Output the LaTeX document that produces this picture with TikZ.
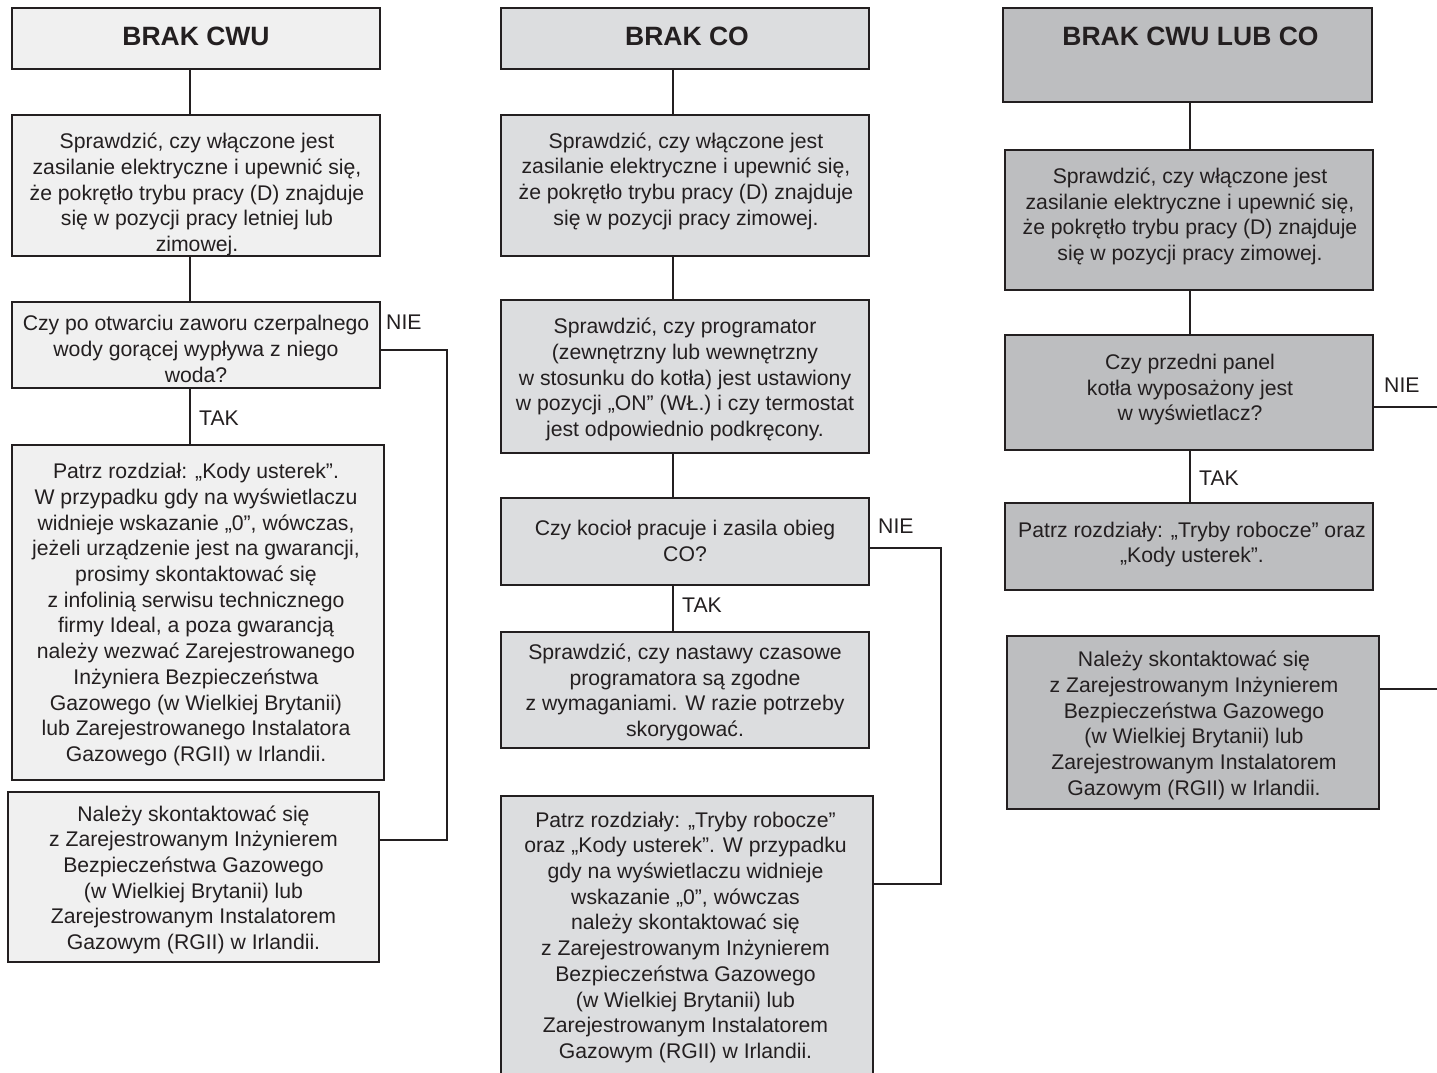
\documentclass[tikz,border=0pt]{standalone}
\usepackage{fontspec}
\setmainfont{Liberation Sans}
\usetikzlibrary{calc}
\definecolor{ink}{HTML}{231F20}
\definecolor{fillA}{HTML}{F0F0F0}
\definecolor{fillB}{HTML}{DCDDDF}
\definecolor{fillC}{HTML}{BDBEC0}
\tikzset{
  box/.style={draw=ink, line width=2.8pt, rectangle, inner sep=0pt},
  txt/.style={inner sep=0pt, align=center, text=ink, font=\fontsize{21.2}{25.7}\selectfont},
  titletext/.style={text=ink, inner sep=0pt, font=\fontsize{26.5}{30}\selectfont\bfseries},
  lbl/.style={text=ink, inner sep=0pt, anchor=west, font=\fontsize{21.2}{24}\selectfont},
  conn/.style={draw=ink, line width=2.8pt, line join=miter}
}
\begin{document}
\begin{tikzpicture}[x=1pt,y=-1pt]
\useasboundingbox[fill=white] (0,0) rectangle (1437,1072);
\clip (0,0) rectangle (1437,1072);

% ---------- column 1 ----------
\node[box, fill=fillA, minimum width=368pt, minimum height=61pt] (t1) at (196,38.5) {};
\node[titletext] (t1txt) at (196,36) {BRAK CWU};
\node[box, fill=fillA, minimum width=368pt, minimum height=141pt] (a2) at (196,185.5) {};
\node[txt] (a2t) at (197,194.5)
  {Sprawdzić, czy włączone jest\\zasilanie elektryczne i upewnić się,\\że pokrętło trybu pracy (D) znajduje\\się w pozycji pracy letniej lub\\zimowej.};
\node[box, fill=fillA, minimum width=368pt, minimum height=86pt] (a3) at (196,345) {};
\node[txt] (a3t) at (196,349)
  {Czy po otwarciu zaworu czerpalnego\\wody gorącej wypływa z niego\\woda?};
\node[box, fill=fillA, minimum width=372pt, minimum height=335pt] (a4) at (198,612.5) {};
\node[txt] (a4t) at (196,614.6)
  {Patrz rozdział: „Kody usterek”.\\W przypadku gdy na wyświetlaczu\\widnieje wskazanie „0”, wówczas,\\jeżeli urządzenie jest na gwarancji,\\prosimy skontaktować się\\z infolinią serwisu technicznego\\firmy Ideal, a poza gwarancją\\należy wezwać Zarejestrowanego\\Inżyniera Bezpieczeństwa\\Gazowego (w Wielkiej Brytanii)\\lub Zarejestrowanego Instalatora\\Gazowego (RGII) w Irlandii.};
\node[box, fill=fillA, minimum width=371pt, minimum height=170pt] (a5) at (193.5,877) {};
\node[txt] (a5t) at (193.5,879.8)
  {Należy skontaktować się\\z Zarejestrowanym Inżynierem\\Bezpieczeństwa Gazowego\\(w Wielkiej Brytanii) lub\\Zarejestrowanym Instalatorem\\Gazowym (RGII) w Irlandii.};
\coordinate (x1) at (190,0);
\coordinate (n1) at (447,350);
\coordinate (k1) at (447,840);
\draw[conn] (t1.south -| x1) -- (a2.north -| x1);
\draw[conn] (a2.south -| x1) -- (a3.north -| x1);
\draw[conn] (a3.south -| x1) -- (a4.north -| x1);
\draw[conn] (a3.east |- n1) -- (n1) -- (k1) -- (a5.east |- k1);
\node[lbl] (nie1) at (386,322) {NIE};
\node[lbl] (tak1) at (199,418) {TAK};

% ---------- column 2 ----------
\node[box, fill=fillB, minimum width=368pt, minimum height=61pt] (t2) at (685,38.5) {};
\node[titletext] (t2txt) at (687,36) {BRAK CO};
\node[box, fill=fillB, minimum width=368pt, minimum height=141pt] (b2) at (685,185.5) {};
\node[txt] (b2t) at (686,181.2)
  {Sprawdzić, czy włączone jest\\zasilanie elektryczne i upewnić się,\\że pokrętło trybu pracy (D) znajduje\\się w pozycji pracy zimowej.};
\node[box, fill=fillB, minimum width=368pt, minimum height=153pt] (b3) at (685,376.5) {};
\node[txt] (b3t) at (685,379.5)
  {Sprawdzić, czy programator\\(zewnętrzny lub wewnętrzny\\w stosunku do kotła) jest ustawiony\\w pozycji „ON” (WŁ.) i czy termostat\\jest odpowiednio podkręcony.};
\node[box, fill=fillB, minimum width=368pt, minimum height=87pt] (b4) at (685,541.5) {};
\node[txt] (b4t) at (685,541.1)
  {Czy kocioł pracuje i zasila obieg\\CO?};
\node[box, fill=fillB, minimum width=368pt, minimum height=116pt] (b5) at (685,690) {};
\node[txt] (b5t) at (685,692.3)
  {Sprawdzić, czy nastawy czasowe\\programatora są zgodne\\z wymaganiami. W razie potrzeby\\skorygować.};
\node[box, fill=fillB, minimum width=372pt, minimum height=279pt] (b6) at (687,935.5) {};
\node[txt] (b6t) at (685.5,937.3)
  {Patrz rozdziały: „Tryby robocze”\\oraz „Kody usterek”. W przypadku\\gdy na wyświetlaczu widnieje\\wskazanie „0”, wówczas\\należy skontaktować się\\z Zarejestrowanym Inżynierem\\Bezpieczeństwa Gazowego\\(w Wielkiej Brytanii) lub\\Zarejestrowanym Instalatorem\\Gazowym (RGII) w Irlandii.};
\coordinate (x2) at (673,0);
\coordinate (n2) at (941,548);
\coordinate (k2) at (941,884);
\draw[conn] (t2.south -| x2) -- (b2.north -| x2);
\draw[conn] (b2.south -| x2) -- (b3.north -| x2);
\draw[conn] (b3.south -| x2) -- (b4.north -| x2);
\draw[conn] (b4.south -| x2) -- (b5.north -| x2);
\draw[conn] (b4.east |- n2) -- (n2) -- (k2) -- (b6.east |- k2);
\node[lbl] (nie2) at (878,526) {NIE};
\node[lbl] (tak2) at (682,605) {TAK};

% ---------- column 3 ----------
\node[box, fill=fillC, minimum width=369pt, minimum height=94pt] (t3) at (1187.5,55) {};
\node[titletext] (t3txt) at (1190.5,36) {BRAK CWU LUB CO};
\node[box, fill=fillC, minimum width=368pt, minimum height=140pt] (c2) at (1189,220) {};
\node[txt] (c2t) at (1190,216.5)
  {Sprawdzić, czy włączone jest\\zasilanie elektryczne i upewnić się,\\że pokrętło trybu pracy (D) znajduje\\się w pozycji pracy zimowej.};
\node[box, fill=fillC, minimum width=368pt, minimum height=115pt] (c3) at (1189,392.5) {};
\node[txt] (c3t) at (1190,389.8)
  {Czy przedni panel\\kotła wyposażony jest\\w wyświetlacz?};
\node[box, fill=fillC, minimum width=368pt, minimum height=87pt] (c4) at (1189,546.5) {};
\node[txt] (c4t) at (1192,544.5)
  {Patrz rozdziały: „Tryby robocze” oraz\\„Kody usterek”.};
\node[box, fill=fillC, minimum width=372pt, minimum height=173pt] (c5) at (1193,722.5) {};
\node[txt] (c5t) at (1194,725.3)
  {Należy skontaktować się\\z Zarejestrowanym Inżynierem\\Bezpieczeństwa Gazowego\\(w Wielkiej Brytanii) lub\\Zarejestrowanym Instalatorem\\Gazowym (RGII) w Irlandii.};
\coordinate (x3) at (1190,0);
\coordinate (e3) at (1440,407);
\coordinate (f3) at (1440,689);
\draw[conn] (t3.south -| x3) -- (c2.north -| x3);
\draw[conn] (c2.south -| x3) -- (c3.north -| x3);
\draw[conn] (c3.south -| x3) -- (c4.north -| x3);
\draw[conn] (c3.east |- e3) -- (e3);
\draw[conn] (c5.east |- f3) -- (f3);
\node[lbl] (nie3) at (1384,385) {NIE};
\node[lbl] (tak3) at (1199,478) {TAK};
\end{tikzpicture}
\end{document}
